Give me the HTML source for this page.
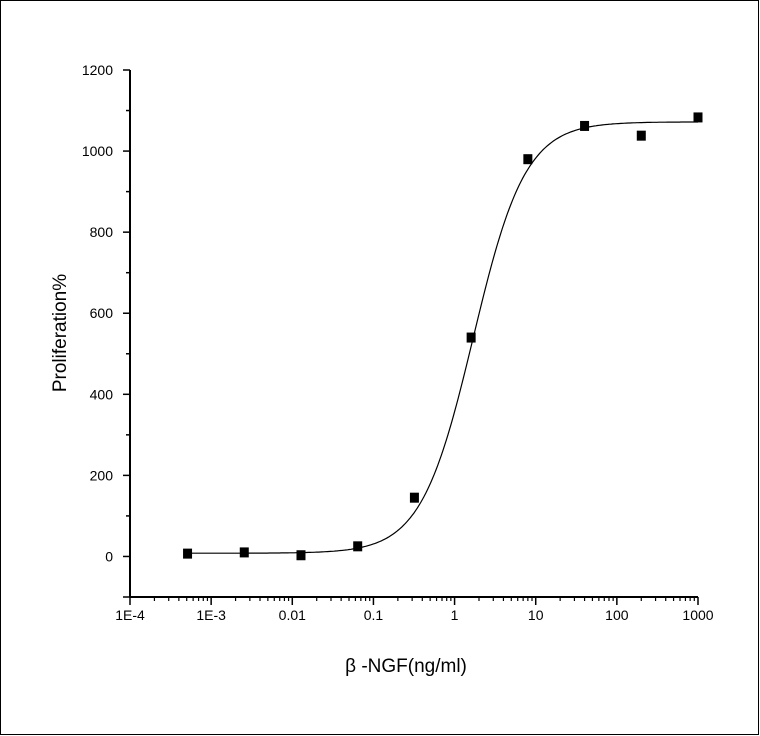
<!DOCTYPE html>
<html><head><meta charset="utf-8"><style>
html,body{margin:0;padding:0;background:#fff}
svg{display:block;font-family:"Liberation Sans",Arial,sans-serif}
</style></head><body>
<svg id="c" width="760" height="736" viewBox="0 0 760 736">
<rect x="0.5" y="0.5" width="758" height="734" fill="none" stroke="#000"/>
<g id="axes"></g><g id="curve"></g><g id="pts"></g>
<text x="66" y="333" transform="rotate(-90 66 333)" text-anchor="middle" font-size="19">Proliferation%</text>
<text x="406" y="672" text-anchor="middle" font-size="19">β -NGF(ng/ml)</text>
</svg>
<script>
const xConc=[0.000512,0.00256,0.0128,0.064,0.32,1.6,8,40,200,1000];
const yProlif=[7,10,3,25,145,540,980,1062,1038,1083];
const yTicks=[0,200,400,600,800,1000,1200];
const xTickLabels=["1E-4","1E-3","0.01","0.1","1","10","100","1000"];
const fitBottom=[8];const fitTop=[1072];const fitEC50=[1.7];const fitHill=[1.35];
const NS="http://www.w3.org/2000/svg";
const X0=130,X1=698,Y0=597,Y1=70;
const sx=v=>X0+(Math.log10(v)+4)/7*(X1-X0);
const sy=v=>Y0-(v+100)/1300*(Y0-Y1);
function mk(t,a,p){const e=document.createElementNS(NS,t);for(const k in a)e.setAttribute(k,a[k]);p.appendChild(e);return e;}
const ax=document.getElementById('axes');
let e=mk('line',{x1:X0,y1:Y0,x2:X1,y2:Y0,stroke:'#000','stroke-width':2},ax);

e=mk('line',{x1:X0,y1:Y0,x2:X0,y2:Y1,stroke:'#000','stroke-width':2},ax);

for(let v=-100;v<=1200;v+=100){const y=sy(v);const major=v%200===0||v===-100;
 mk('line',{x1:X0-(major?7:4),y1:y,x2:X0,y2:y,stroke:'#000','stroke-width':1.5},ax);}
yTicks.forEach(v=>{const t=mk('text',{x:113,y:sy(v)+5,'text-anchor':'end','font-size':14},ax);t.textContent=v;
 });
xTickLabels.forEach((l,i)=>{const v=Math.pow(10,i-4);const x=sx(v);
 mk('line',{x1:x,y1:Y0,x2:x,y2:Y0+8,stroke:'#000','stroke-width':1.5},ax);
 const t=mk('text',{x:x,y:Y0+23,'text-anchor':'middle','font-size':14},ax);t.textContent=l;
 
 if(i<7)for(let m=2;m<=9;m++)mk('line',{x1:sx(v*m),y1:Y0,x2:sx(v*m),y2:Y0+4,stroke:'#000','stroke-width':1.2},ax);});
const f=x=>fitBottom[0]+(fitTop[0]-fitBottom[0])/(1+Math.pow(fitEC50[0]/x,fitHill[0]));
let d='';const a=Math.log10(xConc[0]),b=Math.log10(xConc[xConc.length-1]);
for(let i=0;i<=300;i++){const lx=a+(b-a)*i/300;const x=Math.pow(10,lx);d+=(i?'L':'M')+sx(x).toFixed(1)+' '+sy(f(x)).toFixed(1);}
e=mk('path',{d:d,fill:'none',stroke:'#000','stroke-width':1.2},document.getElementById('curve'));

const pg=document.getElementById('pts');
xConc.forEach((x,i)=>{const p=mk('rect',{x:sx(x)-4.5,y:sy(yProlif[i])-5,width:9,height:10,fill:'#000'},pg);
 });
</script>
</body></html>
